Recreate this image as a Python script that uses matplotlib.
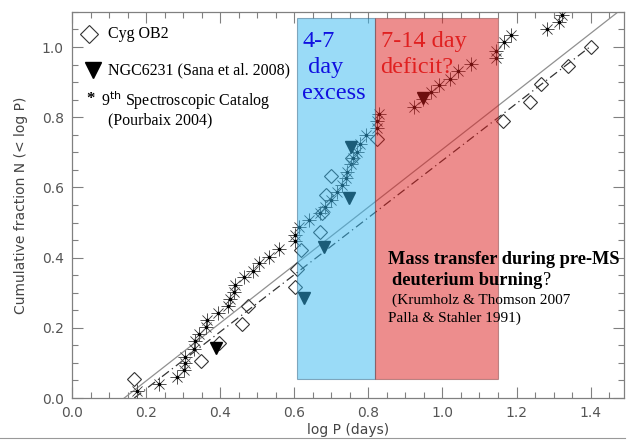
import matplotlib
matplotlib.use("Agg")
import matplotlib.pyplot as plt
from matplotlib.patches import Rectangle
from matplotlib.lines import Line2D
from matplotlib.ticker import MultipleLocator

# ---- data ----
cyg_x = [0.168, 0.349, 0.398, 0.460, 0.475, 0.603, 0.606, 0.619, 0.670, 0.675,
         0.686, 0.698, 0.757, 0.822, 1.164, 1.236, 1.265, 1.339, 1.400]
cyg_y = [0.053, 0.105, 0.158, 0.211, 0.263, 0.316, 0.368, 0.421, 0.474, 0.526,
         0.579, 0.632, 0.684, 0.737, 0.789, 0.842, 0.895, 0.947, 1.000]

ngc_x = [0.388, 0.627, 0.681, 0.749, 0.753, 0.947]
ngc_y = [0.143, 0.286, 0.429, 0.571, 0.714, 0.855]

pb_x = [0.175, 0.235, 0.284, 0.303, 0.305, 0.305, 0.328, 0.332, 0.343, 0.362,
        0.364, 0.395, 0.420, 0.426, 0.437, 0.439, 0.463, 0.489, 0.505, 0.533,
        0.559, 0.603, 0.603, 0.614, 0.641, 0.670, 0.684, 0.700, 0.715, 0.729,
        0.740, 0.741, 0.753, 0.759, 0.768, 0.777, 0.794, 0.823, 0.823, 0.830,
        0.922, 0.947, 0.970, 0.992, 1.020, 1.042, 1.076, 1.144, 1.144, 1.167,
        1.185, 1.283, 1.315, 1.323]
pb_y = [0.020, 0.040, 0.060, 0.081, 0.100, 0.117, 0.140, 0.162, 0.182, 0.203,
        0.222, 0.242, 0.263, 0.283, 0.303, 0.323, 0.344, 0.362, 0.384, 0.403,
        0.425, 0.446, 0.465, 0.486, 0.506, 0.527, 0.545, 0.565, 0.586, 0.608,
        0.627, 0.645, 0.666, 0.683, 0.700, 0.725, 0.750, 0.770, 0.790, 0.810,
        0.830, 0.852, 0.873, 0.892, 0.910, 0.932, 0.953, 0.970, 0.989, 1.013,
        1.033, 1.050, 1.071, 1.091]

solid_x = [0.141, 1.474]
solid_y = [0.0, 1.100]
dashdot_x = [0.168, 1.400]
dashdot_y = [0.0, 1.002]

blue_span = (0.608, 0.818)
red_span = (0.818, 1.151)
span_y = (0.054, 1.082)

xticks = [0.0, 0.2, 0.4, 0.6, 0.8, 1.0, 1.2, 1.4]
yticks = [0.0, 0.2, 0.4, 0.6, 0.8, 1.0]

# ---- figure ----
fig = plt.figure(figsize=(6.29, 4.42), dpi=100)
ax = fig.add_axes([0.1145, 0.0995, 0.8775, 0.8735])
ax.set_xlim(0, 1.49)
ax.set_ylim(0, 1.1)

gray = "#808080"
for s in ax.spines.values():
    s.set_color(gray)
    s.set_linewidth(0.9)

ax.set_xticks(xticks)
ax.set_yticks(yticks)
ax.xaxis.set_minor_locator(MultipleLocator(0.05))
ax.yaxis.set_minor_locator(MultipleLocator(0.05))
ax.tick_params(which="both", direction="in", top=True, right=True, color=gray,
               labelcolor="#555555", labelsize=10, width=0.8)
ax.tick_params(which="major", length=8, pad=6)
ax.tick_params(which="minor", length=4)
ax.set_xticklabels([f"{t:.1f}" for t in xticks])
ax.set_yticklabels([f"{t:.1f}" for t in yticks])
ax.set_xlabel("log P (days)", color="#444444", fontsize=10, labelpad=2)
ax.set_ylabel("Cumulative fraction N (< log P)", color="#444444", fontsize=10, labelpad=10)

# lines
ax.plot(solid_x, solid_y, color="#909090", lw=0.9, zorder=2)
ax.plot(dashdot_x, dashdot_y, color="#333333", lw=0.9,
        linestyle=(0, (7, 3, 1, 3)), zorder=2)

# markers
ax.plot(pb_x, pb_y, linestyle="none", marker=(8, 2, 0), markersize=10,
        markeredgewidth=0.45, color="#555555", zorder=3)
ax.plot(pb_x, pb_y, linestyle="none", marker="s", markersize=1.8,
        color="black", zorder=3)
ax.plot(cyg_x, cyg_y, linestyle="none", marker="D", markersize=7.5,
        markerfacecolor="none", markeredgecolor="#333333", markeredgewidth=0.8, zorder=3)
ax.plot(ngc_x, ngc_y, linestyle="none", marker="v", markersize=9,
        color="black", zorder=3)

# shaded regions (on top, semi-transparent)
ax.add_patch(Rectangle((blue_span[0], span_y[0]), blue_span[1] - blue_span[0],
                       span_y[1] - span_y[0], facecolor="#37B9F1", alpha=0.5,
                       edgecolor="#306080", lw=0.8, zorder=4))
ax.add_patch(Rectangle((red_span[0], span_y[0]), red_span[1] - red_span[0],
                       span_y[1] - span_y[0], facecolor="#DD1D1D", alpha=0.5,
                       edgecolor="#804040", lw=0.8, zorder=4))

serif = ["Liberation Serif", "DejaVu Serif"]
ax.text(0.622, 1.045, "4-7\n day\nexcess", color="#1010E0", fontsize=17.5,
        family=serif, va="top", ha="left", linespacing=1.3, zorder=6)
ax.text(0.833, 1.045, "7-14 day\ndeficit?", color="#E02020", fontsize=17.5,
        family=serif, va="top", ha="left", linespacing=1.3, zorder=6)

ax.text(0.853, 0.395, "Mass transfer during pre-MS", fontsize=13.2, family=serif,
        fontweight="bold", va="center", ha="left", zorder=6)
t2 = ax.text(0.864, 0.335, "deuterium burning", fontsize=13.2, family=serif,
             fontweight="bold", va="center", ha="left", zorder=6)
ax.text(0.864, 0.278, "(Krumholz & Thomson 2007", fontsize=11, family=serif,
        va="center", ha="left", zorder=6)
ax.text(0.853, 0.227, "Palla & Stahler 1991)", fontsize=11, family=serif,
        va="center", ha="left", zorder=6)

# "?" placed right after the bold text
fig.canvas.draw()
bb = t2.get_window_extent(renderer=fig.canvas.get_renderer())
qx, _ = ax.transData.inverted().transform((bb.x1, bb.y0))
ax.text(qx + 0.003, 0.335, "?", fontsize=13.2, family=serif, va="center",
        ha="left", zorder=6)

# custom legend
def px2data(px, py):
    return ((px - 72) / 370.0, (398 - py) / 352.0)

lx, ly = px2data(89, 33)
ax.plot([lx], [ly], marker="D", markersize=9, markerfacecolor="none",
        markeredgecolor="#333333", markeredgewidth=0.8, clip_on=False)
tx, ty = px2data(108, 33)
ax.text(tx, ty, "Cyg OB2", fontsize=11.5, family=serif, va="center", ha="left")
lx, ly = px2data(93, 69)
ax.plot([lx], [ly], marker="v", markersize=11, color="black")
tx, ty = px2data(108, 69)
ax.text(tx, ty, "NGC6231 (Sana et al. 2008)", fontsize=11.5, family=serif,
        va="center", ha="left")
tx, ty = px2data(86, 98)
ax.text(tx, ty, "*", fontsize=12, family=serif, va="center", ha="left", fontweight="bold")
tx, ty = px2data(101, 100)
ax.text(tx, ty, r"9$^{\rm th}$ Spectroscopic Catalog", fontsize=11.5, family=serif,
        va="center", ha="left")
tx, ty = px2data(108, 120)
ax.text(tx, ty, "(Pourbaix 2004)", fontsize=11.5, family=serif, va="center", ha="left")

fig.add_artist(Line2D([0, 0.993], [1 - 438 / 442, 1 - 438 / 442], color="#999999", lw=0.8))

fig.savefig("out.png", dpi=100)
